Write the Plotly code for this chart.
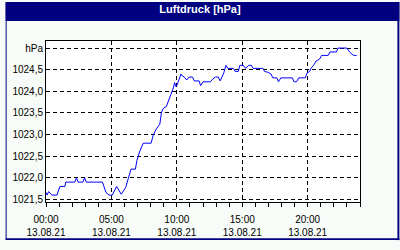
import plotly.graph_objects as go

# ---- data (13.08.21) ----
times = ["00:00", "00:05", "00:12", "00:27", "00:50", "01:04", "01:27", "01:30", "02:12", "02:20",
         "02:27", "02:49", "02:57", "03:05", "04:19", "04:35", "04:49", "05:04", "05:24", "05:45",
         "06:05", "06:19", "06:30", "06:50", "06:57", "07:09", "07:26", "08:02", "08:12", "08:26",
         "08:42", "08:49", "08:57", "09:12", "09:27", "09:42", "09:50", "09:57", "10:05", "10:19",
         "10:26", "10:34", "10:45", "10:57", "11:12", "11:20", "11:42", "11:49", "12:00", "12:34",
         "12:42", "12:57", "13:10", "13:19", "13:35", "13:45", "13:54", "14:20", "14:27", "14:42",
         "14:49", "15:05", "15:15", "15:30", "15:42", "15:50", "16:35", "16:42", "16:57", "17:12",
         "17:20", "17:39", "17:46", "17:57", "18:50", "18:57", "19:09", "19:19", "19:49", "19:57",
         "20:09", "20:15", "20:27", "20:39", "20:54", "21:04", "21:34", "21:42", "22:12", "22:19",
         "23:00", "23:12", "23:30", "23:45"]
pressure = [1021.66, 1021.60, 1021.68, 1021.60, 1021.60, 1021.80, 1021.80, 1021.90, 1021.90, 1022.00,
            1021.90, 1021.90, 1022.00, 1021.90, 1021.90, 1021.66, 1021.60, 1021.60, 1021.80, 1021.62,
            1021.77, 1022.03, 1022.20, 1022.20, 1022.40, 1022.60, 1022.80, 1022.80, 1022.99, 1023.13,
            1023.24, 1023.50, 1023.60, 1023.65, 1023.83, 1024.05, 1024.20, 1024.10, 1024.20, 1024.40,
            1024.35, 1024.33, 1024.26, 1024.33, 1024.33, 1024.24, 1024.24, 1024.13, 1024.22, 1024.22,
            1024.27, 1024.33, 1024.33, 1024.24, 1024.42, 1024.60, 1024.53, 1024.53, 1024.46, 1024.46,
            1024.60, 1024.60, 1024.53, 1024.60, 1024.60, 1024.53, 1024.53, 1024.46, 1024.44, 1024.40,
            1024.31, 1024.31, 1024.22, 1024.31, 1024.31, 1024.22, 1024.22, 1024.31, 1024.31, 1024.42,
            1024.46, 1024.53, 1024.60, 1024.70, 1024.74, 1024.83, 1024.83, 1024.91, 1024.91, 1025.00,
            1025.00, 1024.91, 1024.83, 1024.83]

date = "2021-08-13"
date_label = "13.08.21"
x_tick_hours = ["00:00", "05:00", "10:00", "15:00", "20:00"]
y_tick_vals = [1021.5, 1022.0, 1022.5, 1023.0, 1023.5, 1024.0, 1024.5, 1025.0]
y_tick_text = ["1021,5", "1022,0", "1022,5", "1023,0", "1023,5", "1024,0", "1024,5", "hPa"]
title = "Luftdruck [hPa]"

NAVY = "#000080"
BG = "#F8FCF8"
FONT = "Liberation Sans, Arial, sans-serif"

W, H = 400, 250
ML, MR, MT, MB = 41, 40, 41, 40
PW, PH = W - ML - MR, H - MT - MB


def px_x(p):
    return (p - ML) / PW


def px_y(p):
    return (H - MB - p) / PH


x = [f"{date} {t}" for t in times]

fig = go.Figure()
fig.add_trace(go.Scatter(x=x, y=pressure, mode="lines",
                         line=dict(color="#0000FF", width=1), hoverinfo="skip"))

shapes = [
    dict(type="rect", xref="paper", yref="paper", x0=px_x(0), x1=px_x(W), y0=px_y(20), y1=px_y(0),
         fillcolor=NAVY, line=dict(width=0), layer="above"),
    dict(type="rect", xref="paper", yref="paper", x0=px_x(0), x1=px_x(1), y0=px_y(H), y1=px_y(0),
         fillcolor=NAVY, line=dict(width=0), layer="above"),
    dict(type="rect", xref="paper", yref="paper", x0=px_x(398), x1=px_x(W), y0=px_y(H), y1=px_y(0),
         fillcolor=NAVY, line=dict(width=0), layer="above"),
    dict(type="rect", xref="paper", yref="paper", x0=px_x(0), x1=px_x(W), y0=px_y(H), y1=px_y(248),
         fillcolor=NAVY, line=dict(width=0), layer="above"),
]

fig.update_layout(
    width=W, height=H,
    margin=dict(l=ML, r=MR, t=MT, b=MB, pad=0),
    paper_bgcolor=BG, plot_bgcolor="#FFFFFF",
    showlegend=False,
    font=dict(family=FONT, size=10, color="#000000"),
    title=dict(text=title, x=0.5, xanchor="center", y=1 - 9.5 / H, yanchor="middle",
               font=dict(family=FONT, size=11, color="#FFFFFF", weight="bold")),
    shapes=shapes,
)

fig.update_xaxes(
    type="date",
    range=[f"{date} 00:00", "2021-08-14 00:00"],
    tickmode="array",
    tickvals=[f"{date} {t}" for t in x_tick_hours],
    ticktext=[f"{t}<br>{date_label}" for t in x_tick_hours],
    showgrid=True, gridcolor="#000000", gridwidth=1, griddash="4px,3px",
    showline=True, linecolor="#000000", linewidth=1, mirror=True,
    ticks="outside", ticklen=4, tickcolor="#000000", tickwidth=1,
    ticklabelstandoff=4,
    minor=dict(ticks="outside", ticklen=4, tickcolor="#000000", tickwidth=1,
               dtick=3600000, tick0=f"{date} 00:00", showgrid=False),
    zeroline=False,
    tickfont=dict(family=FONT, size=10, color="#000000"),
)
fig.update_yaxes(
    range=[1021.44, 1025.163],
    tickmode="array", tickvals=y_tick_vals, ticktext=y_tick_text,
    showgrid=True, gridcolor="#000000", gridwidth=1, griddash="4px,3px",
    showline=True, linecolor="#000000", linewidth=1, mirror=True,
    ticks="", zeroline=False,
    tickfont=dict(family=FONT, size=10, color="#000000"),
)

fig.write_html("out.html")
